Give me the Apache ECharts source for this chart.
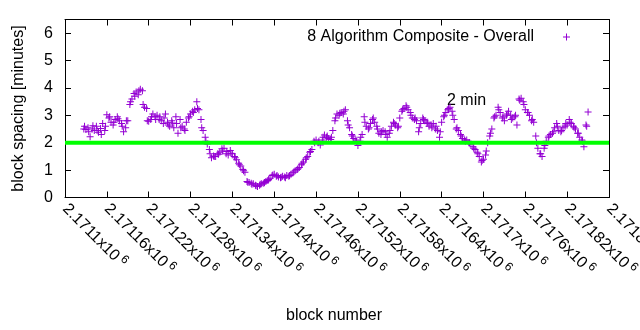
<!DOCTYPE html>
<html>
<head>
<meta charset="utf-8">
<script src="https://cdn.jsdelivr.net/npm/echarts@6/dist/echarts.min.js"></script>
<style>
html,body{margin:0;padding:0;background:#fff;}
#chart{width:640px;height:330px;}
</style>
</head>
<body>
<div id="chart"></div>
<script>
// ---- data ----
const seriesName = '8 Algorithm Composite - Overall';
const firstBlock = 2171127;   // first plotted block of the main readings
const blockStep = 3;
const spacingMinutes = [
 2.5,2.48,2.55,2.22,2.5,2.45,2.6,2.38,2.52,2.7,
 2.45,3.02,2.9,2.75,2.65,2.85,2.95,2.8,2.7,2.4,
 2.55,2.8,3.4,3.6,3.8,3.85,3.75,3.95,3.9,3.3,
 3.25,2.78,2.85,3.05,2.95,3.0,2.85,2.8,2.7,3.05,
 2.75,2.6,2.8,2.55,2.95,2.35,2.85,2.6,2.5,2.75,
 2.9,3.05,3.15,3.2,3.5,3.2,2.85,2.45,2.2,1.95,
 1.75,1.45,1.52,1.5,1.6,1.65,1.78,1.8,1.6,1.55,
 1.72,1.6,1.5,1.38,1.25,1.15,1.02,0.92,0.58,0.55,
 0.52,0.5,0.45,0.4,0.45,0.5,0.52,0.58,0.62,0.7,
 0.8,0.85,0.78,0.75,0.72,0.78,0.75,0.8,0.78,0.85,
 0.9,0.98,1.02,1.1,1.2,1.3,1.4,1.5,1.65,1.75,
 2.05,2.1,2.0,1.92,2.1,2.28,2.2,2.15,2.12,2.45,
 2.8,3.05,3.0,3.1,3.05,3.2,2.8,2.55,2.3,2.15,
 2.1,1.9,2.05,2.3,2.95,2.6,2.5,2.7,2.85,2.75,
 2.6,2.35,2.3,2.45,2.4,2.2,2.35,2.6,2.75,2.65,
 2.55,2.9,3.15,3.25,3.35,3.2,3.1,2.9,2.85,2.8,
 2.4,2.7,2.9,2.8,2.7,2.6,2.65,2.7,2.5,2.45,
 2.2,2.75,2.95,3.1,3.2,3.3,3.15,2.85,2.5,2.45,
 2.3,2.15,2.1,2.1,2.0,1.95,1.85,1.75,1.65,1.5,
 1.3,1.4,1.55,2.0,2.25,2.5,2.9,3.0,3.3,3.1,
 2.9,2.8,3.0,3.15,3.0,2.9,2.95,2.65,3.6,3.62,
 3.5,3.2,3.1,3.0,2.8,2.75,2.25,1.8,1.6,1.5,
 1.8,2.05,2.2,2.3,2.35,2.55,2.7,2.45,2.4,2.55,
 2.6,2.65,2.85,2.7,2.6,2.5,2.35,2.2,2.1,1.85,
 2.65,3.12
];
// extra readings of the scatter band, between the main readings
const extraFirstBlock = 2171128;
const extraStep = 6;
const spacingMinutesExtra = [
 2.6,2.4,2.62,2.45,2.3,2.6,2.95,2.75,2.88,2.6,
 2.8,3.5,3.7,3.9,3.4,2.8,2.95,2.85,2.95,2.9,
 2.65,2.72,2.7,2.55,2.45,2.95,3.1,3.25,2.55,2.05,
 1.6,1.5,1.58,1.7,1.68,1.62,1.45,1.2,0.98,0.56,
 0.48,0.43,0.48,0.55,0.66,0.82,0.8,0.74,0.72,0.8,
 0.93,1.05,1.25,1.45,1.68,2.0,2.05,2.2,2.25,2.2,
 2.9,3.08,3.15,2.65,2.25,2.05,2.2,2.75,2.55,2.9,
 2.5,2.4,2.3,2.45,2.7,2.6,3.2,3.3,3.0,2.9,
 2.55,2.85,2.75,2.55,2.6,2.4,3.0,3.25,3.0,2.55,
 2.25,2.05,2.0,1.8,1.6,1.35,1.7,2.35,2.95,3.2,
 2.95,3.05,2.85,3.0,3.55,3.4,3.1,2.85,2.0,1.6,
 1.9,2.25,2.4,2.6,2.45,2.7,2.75,2.55,2.35,2.05,
 2.6
];
const targetMinutes = 2;
const xMin = 2171100, xMax = 2171880, xInterval = 60;
const xTickLabels = ['2.1711','2.17116','2.17122','2.17128','2.17134','2.1714','2.17146',
  '2.17152','2.17158','2.17164','2.1717','2.17176','2.17182','2.17188'];
const yTicks = [0,1,2,3,4,5,6];
const annotation = '2 min';

// ---- chart ----
const points = spacingMinutes.map((v, i) => [firstBlock + i * blockStep, v])
  .concat(spacingMinutesExtra.map((v, i) => [extraFirstBlock + i * extraStep, v]));
const plus = 'path://M3,0h1v7h-1zM0,3h7v1h-7z';
const font = '"Liberation Sans", Arial, sans-serif';
const purple = '#9400d3';

const chart = echarts.init(document.getElementById('chart'), null, {renderer: 'canvas'});
const axisLineStyle = {color: '#000', width: 1};
const xCommon = {
  type: 'value', min: xMin, max: xMax, interval: xInterval,
  axisLine: {show: true, lineStyle: axisLineStyle, onZero: false},
  axisTick: {show: true, inside: true, length: 6, lineStyle: axisLineStyle},
  splitLine: {show: false}
};
const yCommon = {
  type: 'value', min: 0, max: 6.5, interval: 1,
  axisLine: {show: true, lineStyle: axisLineStyle, onZero: false},
  axisTick: {show: true, inside: true, length: 6, lineStyle: axisLineStyle},
  splitLine: {show: false}
};
chart.setOption({
  animation: false,
  backgroundColor: '#fff',
  textStyle: {fontFamily: font},
  grid: {left: 65, right: 31, top: 19.5, bottom: 132.5, containLabel: false, outerBoundsMode: 'none'},
  legend: {
    data: [{name: seriesName, icon: plus}],
    right: 65, top: 24, align: 'right',
    itemWidth: 55, itemHeight: 7,
    textStyle: {fontSize: 16, color: '#000', fontFamily: font},
    selectedMode: false
  },
  xAxis: [
    Object.assign({}, xCommon, {
      position: 'bottom',
      name: 'block number', nameLocation: 'middle', nameGap: 110,
      nameTextStyle: {fontSize: 16, color: '#000', fontFamily: font, padding: [0, 6, 0, 0]},
      axisLabel: {
        show: true, rotate: -45, margin: 9, color: '#000', hideOverlap: false,
        formatter: function (v) {
          const idx = Math.round((v - xMin) / xInterval);
          return '{m|' + xTickLabels[idx] + 'x10}{e|6}';
        },
        rich: {
          m: {fontSize: 16, fontFamily: font, color: '#000'},
          e: {fontSize: 12, fontFamily: font, color: '#000', padding: [0, 0, 9, 3]}
        }
      }
    }),
    Object.assign({}, xCommon, {position: 'top', axisLabel: {show: false}})
  ],
  yAxis: [
    Object.assign({}, yCommon, {
      position: 'left',
      name: 'block spacing [minutes]', nameLocation: 'middle', nameGap: 38,
      nameTextStyle: {fontSize: 16, color: '#000', fontFamily: font},
      axisLabel: {
        show: true, margin: 12, fontSize: 16, color: '#000',
        formatter: function (v) { return yTicks.indexOf(v) >= 0 ? String(v) : ''; }
      }
    }),
    Object.assign({}, yCommon, {position: 'right', axisLabel: {show: false}})
  ],
  series: [
    {
      name: seriesName, type: 'scatter', data: points,
      symbol: plus, symbolSize: 7,
      itemStyle: {color: purple, opacity: 1},
      z: 2
    },
    {
      name: 'target', type: 'line',
      data: [[xMin, targetMinutes], [xMax, targetMinutes]],
      showSymbol: false, symbol: 'none',
      lineStyle: {color: '#00ff00', width: 4},
      z: 5, silent: true
    }
  ],
  graphic: [{
    type: 'text', left: 447, top: 93,
    style: {text: annotation, fontSize: 16, fontFamily: font, fill: '#000'}
  }]
});
</script>
</body>
</html>
